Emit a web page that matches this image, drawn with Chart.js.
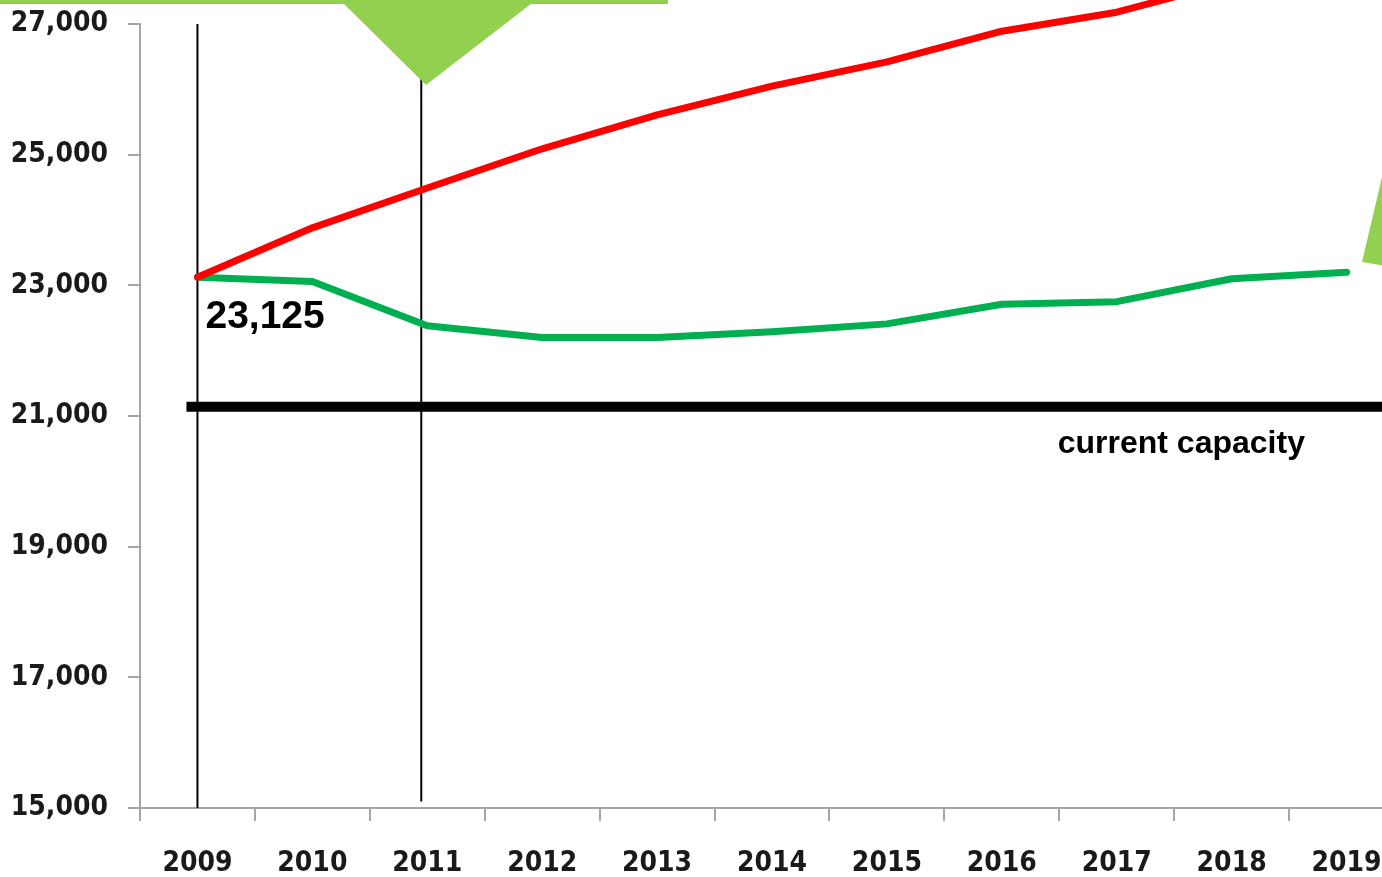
<!DOCTYPE html>
<html>
<head>
<meta charset="utf-8">
<script src="https://cdn.jsdelivr.net/npm/chart.js@4.4.1/dist/chart.umd.min.js"></script>
<style>
  html, body { margin: 0; padding: 0; background: #fff; overflow: hidden; }
  #wrap { position: absolute; left: 0; top: 0; width: 1420px; height: 877px; }
</style>
</head>
<body>
<div id="wrap"><canvas id="demandChart"></canvas></div>
<script>
// Chart data
const years = ['2009', '2010', '2011', '2012', '2013', '2014', '2015', '2016', '2017', '2018', '2019'];
const projectedDemand = [23125, 23880, 24490, 25090, 25610, 26050, 26420, 26890, 27180, 27650, 28000];
const managedDemand = [23125, 23060, 22380, 22200, 22200, 22290, 22410, 22710, 22750, 23100, 23200];
const currentCapacity = 21140;
const startLabel = '23,125';
const capacityLabel = 'current capacity';

const tickFont = {family: "'DejaVu Sans Condensed', 'DejaVu Sans', sans-serif", size: 28, weight: 'bold'};
const axisGrey = '#A6A6A6';

// Reference lines, labels and the green callout shapes
const annotations = {
  id: 'annotations',
  beforeDatasetsDraw(chart) {
    const {ctx, scales: {x, y}} = chart;
    ctx.save();
    ctx.strokeStyle = '#000';
    ctx.lineWidth = 2;
    // marker at the first year
    let px = x.getPixelForValue(0);
    ctx.beginPath();
    ctx.moveTo(px, y.getPixelForValue(27000));
    ctx.lineTo(px, y.getPixelForValue(15000));
    ctx.stroke();
    // marker near 2011
    px = x.getPixelForValue(2) - 6;
    ctx.beginPath();
    ctx.moveTo(px, y.getPixelForValue(26200));
    ctx.lineTo(px, y.getPixelForValue(15100));
    ctx.stroke();
    ctx.restore();
  },
  afterDatasetsDraw(chart) {
    const {ctx, chartArea, scales: {x, y}} = chart;
    ctx.save();
    // capacity line
    const cy = y.getPixelForValue(currentCapacity);
    ctx.strokeStyle = '#000';
    ctx.lineWidth = 10;
    ctx.beginPath();
    ctx.moveTo(x.getPixelForValue(0) - 11, cy);
    ctx.lineTo(chartArea.right, cy);
    ctx.stroke();

    ctx.fillStyle = '#000';
    ctx.textAlign = 'left';
    ctx.textBaseline = 'alphabetic';
    ctx.font = "bold 32px 'Liberation Sans', Arial, sans-serif";
    ctx.fillText(capacityLabel, x.getPixelForValue(8) - 59, cy + 46);

    ctx.font = "bold 39px 'Liberation Sans', Arial, sans-serif";
    ctx.fillText(startLabel, x.getPixelForValue(0) + 8, y.getPixelForValue(managedDemand[0]) + 51);

    // green callout pieces
    ctx.fillStyle = '#92D050';
    ctx.fillRect(0, 0, 668, 4);
    ctx.beginPath();
    ctx.moveTo(340, 0);
    ctx.lineTo(536, 0);
    ctx.lineTo(426, 85);
    ctx.closePath();
    ctx.fill();
    ctx.beginPath();
    ctx.moveTo(1362, 262);
    ctx.lineTo(1386, 160);
    ctx.lineTo(1386, 266);
    ctx.closePath();
    ctx.fill();
    ctx.restore();
  }
};

new Chart(document.getElementById('demandChart'), {
  type: 'line',
  data: {
    labels: years,
    datasets: [{
      label: 'Projected demand',
      data: projectedDemand,
      borderColor: '#FF0000',
      borderWidth: 7,
      pointRadius: 0,
      tension: 0,
      borderJoinStyle: 'round',
      borderCapStyle: 'round',
      clip: false
    }, {
      label: 'Managed demand',
      data: managedDemand,
      borderColor: '#00B050',
      borderWidth: 7,
      pointRadius: 0,
      tension: 0,
      borderJoinStyle: 'round',
      borderCapStyle: 'round',
      clip: false
    }]
  },
  options: {
    responsive: true,
    maintainAspectRatio: false,
    animation: false,
    layout: {padding: {top: 24, right: 16, bottom: 0, left: 0}},
    plugins: {legend: {display: false}, tooltip: {enabled: false}},
    scales: {
      x: {
        offset: true,
        grid: {offset: true, drawOnChartArea: false, drawTicks: true, tickLength: 13, color: axisGrey, lineWidth: 2},
        border: {color: axisGrey, width: 2},
        ticks: {font: tickFont, color: '#1a1a1a', padding: 26, maxRotation: 0, autoSkip: false},
        afterFit: (s) => { s.height = 69; s.paddingLeft = 0; s.paddingRight = 0; }
      },
      y: {
        min: 15000,
        max: 27000,
        grid: {drawOnChartArea: false, drawTicks: true, tickLength: 12, color: axisGrey, lineWidth: 2},
        border: {color: axisGrey, width: 2},
        ticks: {
          stepSize: 2000,
          font: tickFont,
          color: '#1a1a1a',
          padding: 20,
          callback: (v) => v.toLocaleString('en-US')
        },
        afterFit: (s) => { s.width = 140; s.paddingTop = 0; s.paddingBottom = 0; }
      }
    }
  },
  plugins: [annotations]
});
</script>
</body>
</html>
